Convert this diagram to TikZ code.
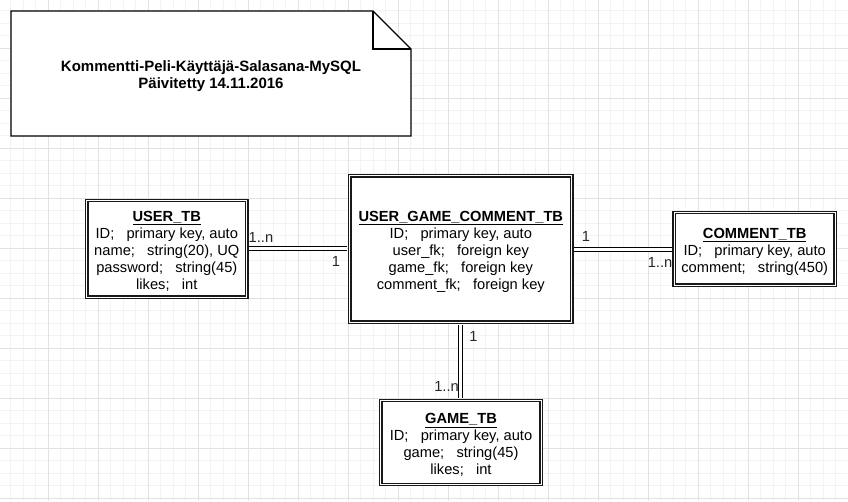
\documentclass[tikz,border=0pt]{standalone}
\usepackage{fontspec}
\setmainfont{Liberation Sans}
\definecolor{gridmajor}{HTML}{E2E2E2}
\definecolor{gridminor}{HTML}{F3F3F3}
\newcommand\etitle[1]{\textbf{\underline{#1}}}
\begin{document}
\begin{tikzpicture}[x=1pt,y=-1pt,
  minorline/.style={draw=gridminor, line width=0.8pt},
  majorline/.style={draw=gridmajor, line width=0.9pt},
  notestyle/.style={draw=black, line width=1.2pt, line join=miter},
  notetext/.style={align=center, inner sep=0pt, font=\fontsize{15}{17}\selectfont\bfseries},
  entity/.style={draw=black!90, fill=white, line width=1.3pt, double=white, double distance=1.3pt,
    inner sep=0pt},
  etext/.style={align=center, inner sep=0pt, font=\fontsize{14.67}{17}\selectfont, yshift=-2.5pt},
  rel/.style={draw=black, line width=1pt, double=white, double distance=3pt,
    shorten <=1.9pt, shorten >=1.9pt},
  lbl/.style={inner sep=0pt, font=\fontsize{14.67}{17}\selectfont, text=black!85}]
\useasboundingbox (0,0) rectangle (848,501);
\fill[white] (0,0) rectangle (848,501);
% grid
\foreach \i in {0,...,67} \draw[minorline] ({10.5+12.5*\i},0) -- ({10.5+12.5*\i},501);
\foreach \i in {0,...,39} \draw[minorline] (0,{10.5+12.5*\i}) -- (848,{10.5+12.5*\i});
\foreach \i in {0,...,16} \draw[majorline] ({48+50*\i},0) -- ({48+50*\i},501);
\foreach \i in {0,...,9} \draw[majorline] (0,{48+50*\i}) -- (848,{48+50*\i});
% note
\filldraw[notestyle, fill=white] (11,11) -- (373,11) -- (411,49) -- (411,136) -- (11,136) -- cycle;
\draw[notestyle] (373,11) -- (373,49) -- (411,49);
\node[notetext] (title) at (211,76.5) {Kommentti-Peli-Käyttäjä-Salasana-MySQL\\Päivitetty 14.11.2016};
% entities
\node[entity, minimum width=160pt, minimum height=96.7pt] (user) at (166.8,248.8) {};
\node[etext] (usertext) at (user.center)
  {\etitle{USER\_TB}\\ID;\ \ \ primary key, auto\\name;\ \ \ string(20), UQ\\password;\ \ \ string(45)\\likes;\ \ \ int};
\node[entity, minimum width=222pt, minimum height=146.7pt] (ugc) at (460.8,249) {};
\node[etext] (ugctext) at (ugc.center)
  {\etitle{USER\_GAME\_COMMENT\_TB}\\ID;\ \ \ primary key, auto\\user\_fk;\ \ \ foreign key\\game\_fk;\ \ \ foreign key\\comment\_fk;\ \ \ foreign key};
\node[entity, minimum width=161pt, minimum height=72.7pt] (comment) at (754.7,248.8) {};
\node[etext, yshift=-0.5pt] (commenttext) at (comment.center)
  {\etitle{COMMENT\_TB}\\ID;\ \ \ primary key, auto\\comment;\ \ \ string(450)};
\node[entity, minimum width=160.4pt, minimum height=84pt] (game) at (461,442.5) {};
\node[etext] (gametext) at (game.center)
  {\etitle{GAME\_TB}\\ID;\ \ \ primary key, auto\\game;\ \ \ string(45)\\likes;\ \ \ int};
% relations
\draw[rel] (user.east) -- (user.east -| ugc.west);
\draw[rel] (ugc.east) -- (ugc.east -| comment.west);
\draw[rel] (ugc.south) -- (ugc.south |- game.north);
% labels
\node[lbl, anchor=west] (lu1) at (248.5,237) {1..n};
\node[lbl] (lu2) at (336,261.7) {1};
\node[lbl] (lc1) at (586,236.7) {1};
\node[lbl, anchor=east] (lc2) at (672.5,262) {1..n};
\node[lbl] (lg1) at (473.5,336.7) {1};
\node[lbl, anchor=east] (lg2) at (459,386.7) {1..n};
\end{tikzpicture}
\end{document}
